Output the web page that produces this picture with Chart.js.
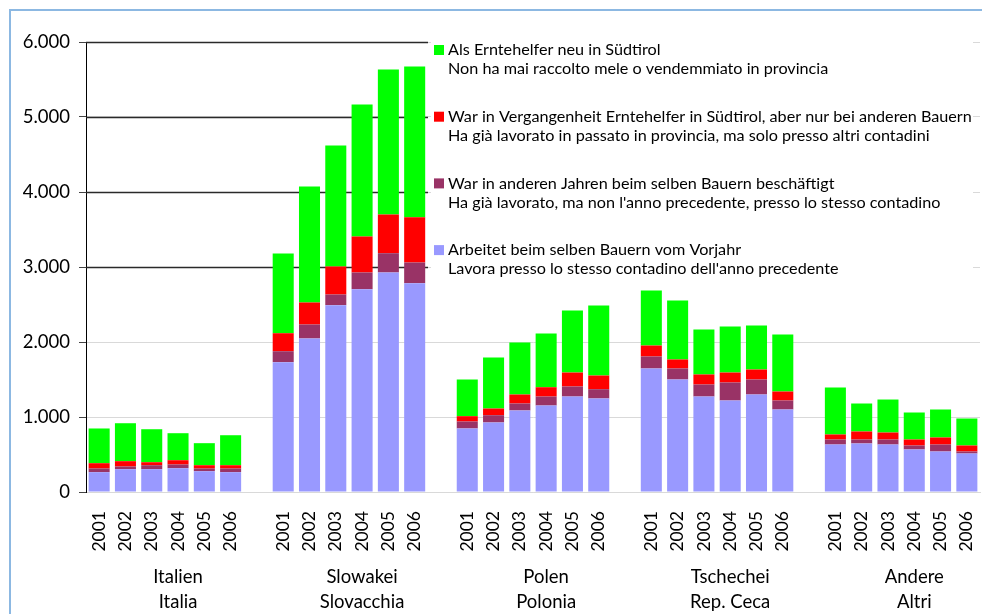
<!DOCTYPE html>
<html>
<head>
<meta charset="utf-8">
<script src="https://cdn.jsdelivr.net/npm/chart.js@4.4.1/dist/chart.umd.min.js"></script>
<style>
    html, body { margin: 0; padding: 0; background: #fff; }
    #wrap { position: relative; width: 982px; height: 614px; overflow: hidden; }
    #frame {
        position: absolute; left: 9px; top: 9px; width: 990px; height: 620px;
        border-top: 2px solid #8cb8e2; border-left: 2px solid #8cb8e2;
        pointer-events: none;
    }
</style>
</head>
<body>
<div id="wrap">
    <canvas id="chart" width="982" height="614"></canvas>
    <div id="frame"></div>
</div>
<script>
/* ── Chart data ── */
var years = ['2001', '2002', '2003', '2004', '2005', '2006'];
var groupsDe = ['Italien', 'Slowakei', 'Polen', 'Tschechei', 'Andere'];
var groupsIt = ['Italia', 'Slovacchia', 'Polonia', 'Rep. Ceca', 'Altri'];

// one value per group/year, groups in the order above
var sameFarmerLastYear = [264, 304, 304, 317, 277, 264,
                          1731, 2047, 2491, 2704, 2927, 2784,
                          847, 927, 1087, 1153, 1273, 1247,
                          1647, 1500, 1273, 1220, 1300, 1100,
                          633, 647, 633, 567, 540, 513];
var sameFarmerOtherYears = [49, 36, 53, 50, 36, 49,
                            146, 186, 142, 223, 257, 276,
                            93, 97, 93, 120, 134, 124,
                            160, 147, 160, 240, 200, 120,
                            67, 53, 67, 53, 93, 27];
var otherFarmers = [71, 71, 40, 57, 44, 44,
                    240, 294, 374, 480, 516, 604,
                    71, 89, 120, 124, 186, 182,
                    146, 120, 134, 133, 133, 120,
                    67, 107, 93, 80, 94, 80];
var newHelpers = [463, 506, 440, 360, 294, 400,
                  1063, 1546, 1613, 1760, 1933, 2009,
                  489, 680, 693, 716, 827, 934,
                  734, 786, 600, 614, 587, 760,
                  626, 373, 440, 360, 373, 360];

var legendDe = ['Als Erntehelfer neu in Südtirol',
                'War in Vergangenheit Erntehelfer in Südtirol, aber nur bei anderen Bauern',
                'War in anderen Jahren beim selben Bauern beschäftigt',
                'Arbeitet beim selben Bauern vom Vorjahr'];
var legendIt = ['Non ha mai raccolto mele o vendemmiato in provincia',
                'Ha già lavorato in passato in provincia, ma solo presso altri contadini',
                'Ha già lavorato, ma non l\'anno precedente, presso lo stesso contadino',
                'Lavora presso lo stesso contadino dell\'anno precedente'];
var legendColors = ['#00ff00', '#ff0000', '#993366', '#9999ff'];

var FONT = 'Lato, "DejaVu Sans", sans-serif';

/* ── Build category slots: 6 years per group, one empty slot between groups ── */
var labels = [];
var slotIndex = [];   // slot position of each value
groupsDe.forEach(function (g, gi) {
    years.forEach(function (y) {
        slotIndex.push(labels.length);
        labels.push(y);
    });
    if (gi < groupsDe.length - 1) labels.push('');
});

function toSlots(values) {
    var out = labels.map(function () { return null; });
    values.forEach(function (v, i) { out[slotIndex[i]] = v; });
    return out;
}

function formatThousands(v) {
    return String(v).replace(/\B(?=(\d{3})+(?!\d))/g, '.');
}

/* ── Plugin: white legend box, dark upper gridlines, legend text, group names ── */
var decorations = {
    id: 'decorations',
    beforeDatasetsDraw: function (chart) {
        var ctx = chart.ctx;
        var yScale = chart.scales.y;
        var area = chart.chartArea;
        ctx.save();
        ctx.fillStyle = '#fff';
        ctx.fillRect(431, 30, 542, 264);
        ctx.strokeStyle = '#2a2a2a';
        ctx.lineWidth = 1.5;
        yScale.ticks.forEach(function (t) {
            if (t.value < 3000) return;
            var py = Math.round(yScale.getPixelForValue(t.value)) + 0.5;
            ctx.beginPath();
            ctx.moveTo(area.left, py);
            ctx.lineTo(428, py);
            ctx.stroke();
        });
        ctx.restore();
    },
    afterDraw: function (chart) {
        var ctx = chart.ctx;
        var xScale = chart.scales.x;
        ctx.save();

        // legend, two lines per entry
        ctx.font = '16.2px ' + FONT;
        ctx.textBaseline = 'middle';
        ctx.textAlign = 'left';
        legendDe.forEach(function (txt, i) {
            var y0 = 50 + i * 66.7;
            ctx.fillStyle = legendColors[i];
            ctx.fillRect(434, y0 - 5, 10, 10);
            ctx.fillStyle = '#000';
            ctx.fillText(txt, 448, y0);
            ctx.fillText(legendIt[i], 448, y0 + 19);
        });

        // group captions under the year labels, centred on the 4th year
        ctx.font = '18.5px ' + FONT;
        ctx.textAlign = 'center';
        groupsDe.forEach(function (g, gi) {
            var px = xScale.getPixelForValue(slotIndex[gi * 6 + 3]);
            ctx.fillText(g, px, 577);
            ctx.fillText(groupsIt[gi], px, 602);
        });
        ctx.restore();
    }
};

function makeSet(label, values, color) {
    return {
        label: label,
        data: toSlots(values),
        backgroundColor: color,
        borderWidth: 0,
        categoryPercentage: 1,
        barPercentage: 0.8
    };
}

new Chart(document.getElementById('chart'), {
    type: 'bar',
    data: {
        labels: labels,
        datasets: [
            makeSet(legendDe[3], sameFarmerLastYear, legendColors[3]),
            makeSet(legendDe[2], sameFarmerOtherYears, legendColors[2]),
            makeSet(legendDe[1], otherFarmers, legendColors[1]),
            makeSet(legendDe[0], newHelpers, legendColors[0])
        ]
    },
    options: {
        responsive: false,
        animation: false,
        layout: { padding: { left: 0, top: 42, right: 2, bottom: 0 } },
        plugins: { legend: { display: false }, tooltip: { enabled: false } },
        scales: {
            x: {
                stacked: true,
                grid: { display: false, drawTicks: false },
                border: { color: '#d9d9d9', width: 1 },
                ticks: {
                    autoSkip: false,
                    minRotation: 90,
                    maxRotation: 90,
                    padding: 19,
                    color: '#000',
                    font: { family: FONT, size: 17.5 }
                },
                afterFit: function (s) {
                    s.height = 122;
                    s.paddingLeft = 0;
                    s.paddingRight = 0;
                }
            },
            y: {
                stacked: true,
                min: 0,
                max: 6000,
                grid: {
                    color: '#d9d9d9',
                    tickColor: '#444',
                    tickLength: 7
                },
                border: { color: '#000', width: 1 },
                ticks: {
                    stepSize: 1000,
                    padding: 9,
                    color: '#000',
                    font: { family: FONT, size: 18.5 },
                    callback: function (v) { return formatThousands(v); }
                },
                afterFit: function (s) { s.width = 86; }
            }
        }
    },
    plugins: [decorations]
});
</script>
</body>
</html>
